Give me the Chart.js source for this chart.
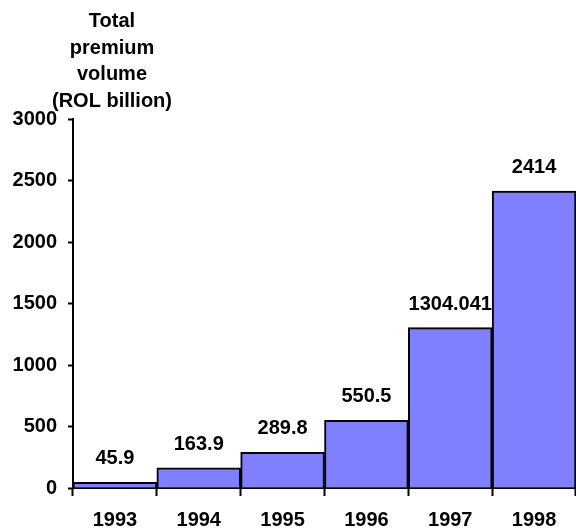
<!DOCTYPE html>
<html lang="en">
<head>
  <meta charset="UTF-8">
  <title>Total premium volume</title>
  <style>
    body { margin: 0; background: #fff; }
    #wrap { width: 576px; height: 529px; position: relative; }
  </style>
</head>
<body>
  <div id="wrap"><canvas id="premiumChart"></canvas></div>

  <script src="https://cdn.jsdelivr.net/npm/chart.js"></script>
  <script>
    // Data
    const years = ['1993', '1994', '1995', '1996', '1997', '1998'];
    const premiumVolume = [45.9, 163.9, 289.8, 550.5, 1304.041, 2414];
    const titleLines = ['Total', 'premium', 'volume', '(ROL billion)'];

    const FONT = "'Liberation Sans', Arial, sans-serif";

    // value labels above bars + axis title in top-left
    const labelsPlugin = {
      id: 'labels',
      afterDatasetsDraw(chart) {
        const ctx = chart.ctx;
        const meta = chart.getDatasetMeta(0);
        ctx.save();
        ctx.font = 'bold 20px ' + FONT;
        ctx.fillStyle = '#000';
        ctx.textAlign = 'center';
        ctx.textBaseline = 'alphabetic';
        meta.data.forEach((bar, i) => {
          ctx.fillText(String(premiumVolume[i]), bar.x, bar.y - 18);
        });
        titleLines.forEach((line, i) => {
          ctx.fillText(line, 112, 27 + i * 26.7);
        });
        ctx.restore();
      }
    };

    new Chart(document.getElementById('premiumChart'), {
      type: 'bar',
      data: {
        labels: years,
        datasets: [{
          data: premiumVolume,
          backgroundColor: '#8080FF',
          borderColor: '#000',
          borderWidth: 2,
          categoryPercentage: 1,
          barPercentage: 1
        }]
      },
      options: {
        responsive: true,
        maintainAspectRatio: false,
        animation: false,
        layout: { padding: { top: 119, left: 0, right: 0, bottom: 0 } },
        plugins: { legend: { display: false }, tooltip: { enabled: false } },
        scales: {
          x: {
            afterFit: s => { s.height = 41; },
            grid: { drawOnChartArea: false, drawTicks: true, tickLength: 8, tickColor: '#000', tickWidth: 2, offset: true },
            border: { color: '#000', width: 2 },
            ticks: { color: '#000', font: { family: FONT, size: 20, weight: 'bold' }, padding: 12 }
          },
          y: {
            min: 0,
            max: 3000,
            afterFit: s => { s.width = 73; },
            grid: { drawOnChartArea: false, drawTicks: true, tickLength: 5, tickColor: '#000', tickWidth: 2 },
            border: { color: '#000', width: 2 },
            ticks: {
              stepSize: 500,
              color: '#000',
              font: { family: FONT, size: 20, weight: 'bold' },
              padding: 11,
              callback: v => String(v)
            }
          }
        }
      },
      plugins: [labelsPlugin]
    });
  </script>
</body>
</html>
